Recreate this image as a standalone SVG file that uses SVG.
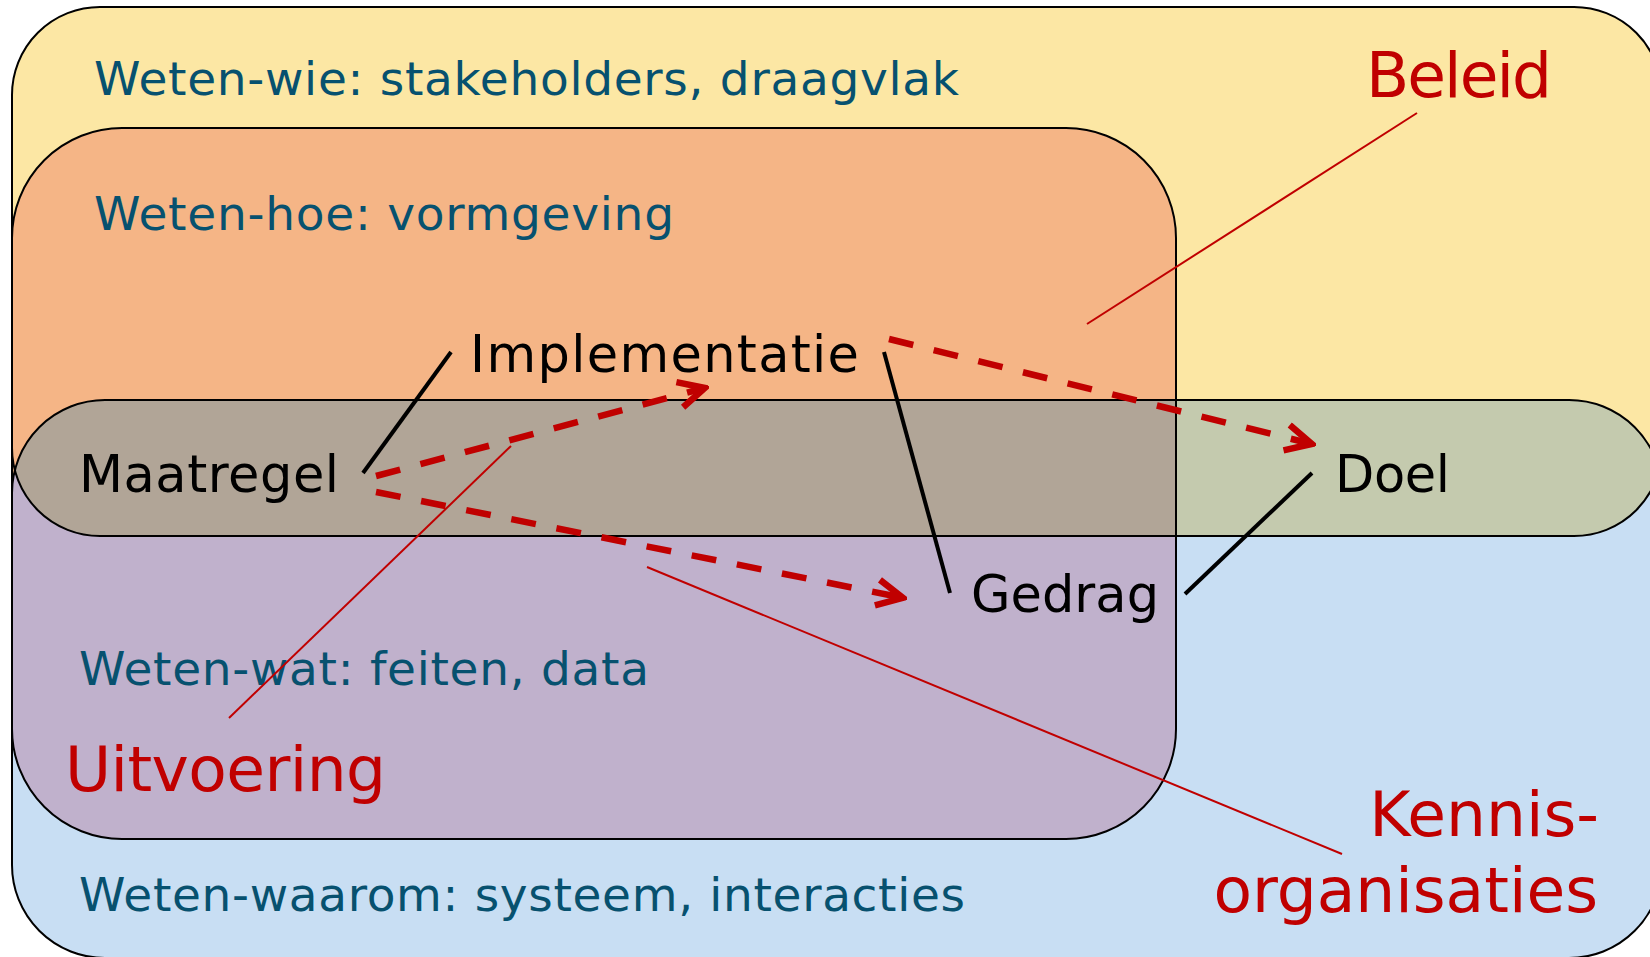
<svg xmlns="http://www.w3.org/2000/svg" width="1650" height="957" viewBox="0 0 1650 957">
  <defs>
    <style>
      .zone-label { font-family: "DejaVu Sans", Verdana, sans-serif; font-size: 47px; fill: #07516F; }
      .node-label { font-family: "DejaVu Sans", Verdana, sans-serif; font-size: 51px; fill: #000000; }
      .actor-label { font-family: "DejaVu Sans", Verdana, sans-serif; font-size: 63px; fill: #C00000; }
      .outline { fill: none; stroke: #000000; stroke-width: 2; }
      .link { fill: none; stroke: #000000; stroke-width: 4; }
      .flow { fill: none; stroke: #C00000; stroke-width: 6.5; stroke-dasharray: 25 21; }
      .leader { fill: none; stroke: #C00000; stroke-width: 2; }
    </style>
    <rect id="shape-wie" x="12" y="7" width="1650" height="529" rx="88" ry="88"/>
    <rect id="shape-waarom" x="12" y="400" width="1650" height="558" rx="93" ry="93"/>
    <rect id="shape-hoe" x="12" y="128" width="1164" height="711" rx="110" ry="110"/>
    <clipPath id="clip-waarom"><use href="#shape-waarom"/></clipPath>
    <clipPath id="clip-wie"><use href="#shape-wie"/></clipPath>
    <marker id="chevron" viewBox="0 0 32 32" markerWidth="32" markerHeight="32" refX="24" refY="16" orient="auto" markerUnits="userSpaceOnUse">
      <path d="M2,3 L28,16 L2,29" fill="none" stroke="#C00000" stroke-width="6.5" stroke-dasharray="none" stroke-linejoin="miter"/>
    </marker>
  </defs>

  <rect x="0" y="0" width="1650" height="957" fill="#FFFFFF"/>

  <!-- Regions -->
  <g id="weten-wie">
    <use href="#shape-wie" fill="#FCE7A4"/>
    <text class="zone-label" x="94" y="95" textLength="865">Weten-wie: stakeholders, draagvlak</text>
  </g>

  <g id="weten-waarom">
    <use href="#shape-waarom" fill="#C8DEF3"/>
    <text class="zone-label" x="79" y="911" textLength="886">Weten-waarom: systeem, interacties</text>
  </g>

  <g id="overlap-wie-waarom">
    <use href="#shape-wie" fill="#C4CAAE" clip-path="url(#clip-waarom)"/>
  </g>

  <g id="weten-hoe">
    <use href="#shape-hoe" fill="#F5B586"/>
    <text class="zone-label" x="94" y="230" textLength="580">Weten-hoe: vormgeving</text>
  </g>

  <g id="weten-wat">
    <use href="#shape-hoe" fill="#C0B1CC" clip-path="url(#clip-waarom)"/>
    <g clip-path="url(#clip-waarom)">
      <use href="#shape-hoe" fill="#B1A597" clip-path="url(#clip-wie)"/>
    </g>
    <text class="zone-label" x="79" y="685" textLength="570">Weten-wat: feiten, data</text>
  </g>

  <g id="region-outlines">
    <use href="#shape-wie" class="outline"/>
    <use href="#shape-waarom" class="outline"/>
    <use href="#shape-hoe" class="outline"/>
  </g>

  <!-- Connectors -->
  <g id="connectors">
    <line class="link" x1="363" y1="473" x2="451" y2="352"/>
    <line class="link" x1="884" y1="352" x2="950" y2="593"/>
    <line class="link" x1="1185" y1="594" x2="1312" y2="473"/>
    <path class="flow" d="M376,476 L701,389" marker-end="url(#chevron)"/>
    <path class="flow" d="M376,492 L899,597" marker-end="url(#chevron)"/>
    <path class="flow" d="M889,339 L1308,443" marker-end="url(#chevron)"/>
    <line class="leader" x1="1417" y1="113" x2="1087" y2="324"/>
    <line class="leader" x1="511" y1="446" x2="229" y2="718"/>
    <line class="leader" x1="647" y1="567" x2="1342" y2="854"/>
  </g>

  <!-- Nodes -->
  <g id="maatregel">
    <text class="node-label" x="79" y="492" textLength="260">Maatregel</text>
  </g>
  <g id="implementatie">
    <text class="node-label" x="470" y="372" textLength="389">Implementatie</text>
  </g>
  <g id="gedrag">
    <text class="node-label" x="971" y="612" textLength="188">Gedrag</text>
  </g>
  <g id="doel">
    <text class="node-label" x="1335" y="492" textLength="115">Doel</text>
  </g>

  <!-- Actor labels -->
  <g id="beleid">
    <text class="actor-label" x="1366" y="97" textLength="186">Beleid</text>
  </g>
  <g id="uitvoering">
    <text class="actor-label" x="65" y="791" textLength="321">Uitvoering</text>
  </g>
  <g id="kennisorganisaties">
    <text class="actor-label" x="1599" y="836" text-anchor="end">Kennis-</text>
    <text class="actor-label" x="1598" y="912" text-anchor="end">organisaties</text>
  </g>
</svg>
